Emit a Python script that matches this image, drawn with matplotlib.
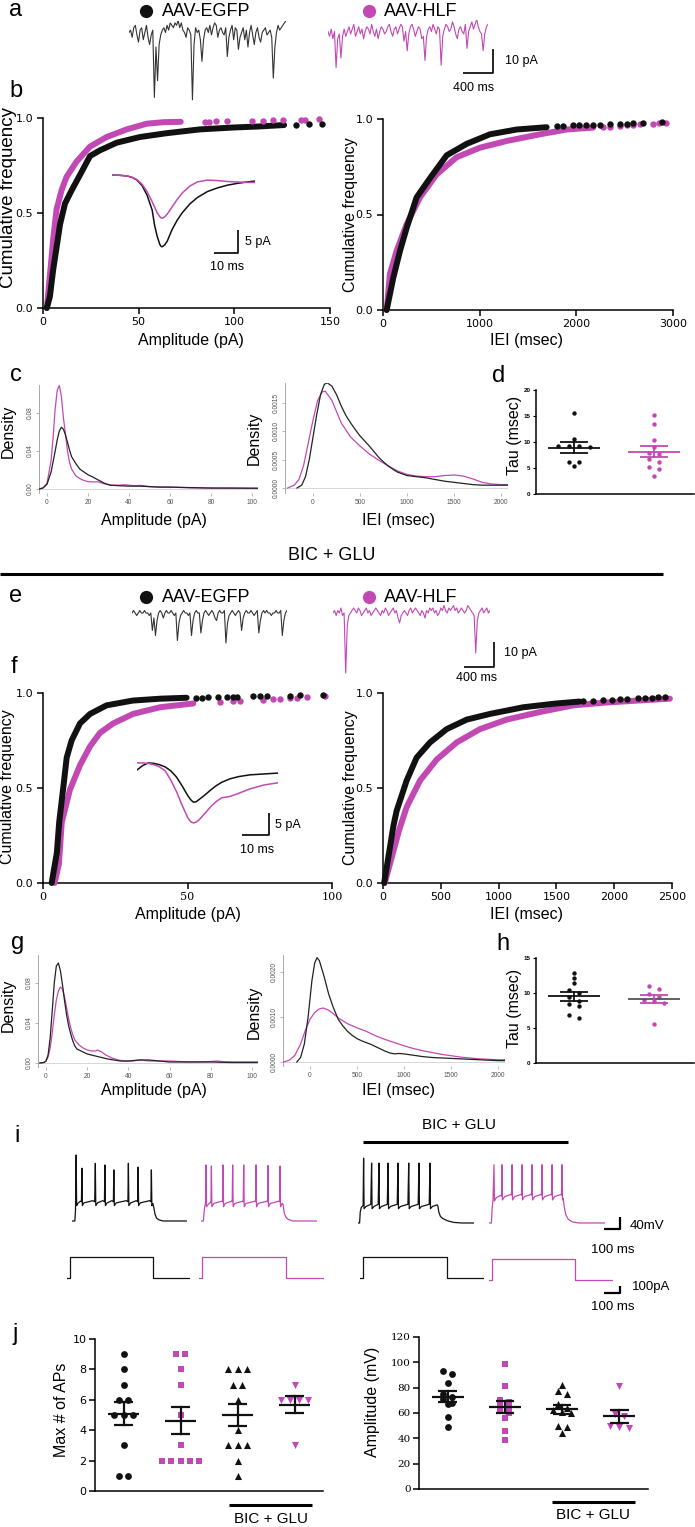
import numpy as np
import matplotlib
matplotlib.use('Agg')
import matplotlib.pyplot as plt

plt.rcParams['font.family'] = ['Liberation Sans', 'DejaVu Sans']

MAG = '#C249B4'
BLK = '#111111'

# ======================= DATA =======================
group_names = ['AAV-EGFP', 'AAV-HLF']

# a / e : example mEPSC traces (pA relative to baseline, equal sampling)
trace_a_egfp = [0, 1, -2, 2, 3, -1, -4, 1, 2, -3,
                0, 3, -2, -5, -1, 1, -27, -6, -20, -5,
                -1, 1, 2, 0, 3, 1, 4, 3, 2, 4,
                3, 5, 2, 4, 1, 0, -2, 2, 1, -1,
                -28, -5, 2, 0, 1, -3, -12, -3, 1, 2,
                0, 3, -1, 2, 4, 3, -2, 1, 2, 0,
                -1, 2, -10, -2, 1, 3, -3, 2, 1, -7,
                -2, 0, 2, -3, 1, -6, 0, 3, -1, -5,
                0, 2, -2, -4, 0, 1, 2, -1, 0, 1,
                -2, -19, -6, 0, 3, 1, 2, 3, 4, 5]
trace_a_hlf = [0, -2, 1, -3, 0, -15, -3, -1, -11, -2,
               1, -2, 0, 2, -1, 1, 3, -2, 0, 2,
               -1, 1, -3, 0, 2, 1, -1, 3, 0, -2,
               1, -3, 0, 2, 1, -1, 0, 2, 3, 0,
               -2, 1, 2, -1, 1, 3, 2, -4, 0, -8,
               -1, 2, 3, 1, -2, 0, 2, 1, -3, -2,
               -12, -2, 1, 2, 0, 3, 1, -1, 2, 1,
               -14, -2, 1, 3, 2, 0, 1, 4, 2, -1,
               -3, 1, 2, 0, -1, 3, -7, 0, 2, 4,
               1, 3, 5, 2, 0, -1, -8, -1, 2, 3]
trace_e_egfp = [0, 1, 0, -1, 0, 1, 0, 0, 1, 0,
                0, -1, 0, -7, -2, -9, -3, 0, 1, 0,
                -2, 0, 1, 0, 0, 1, 0, -1, 0, -11,
                -4, -1, 0, 1, 0, 0, -1, 0, -9, -3,
                0, 1, 0, 0, -8, -3, 0, 1, 0, -1,
                0, 1, 0, -2, -3, 0, 1, 0, 0, 1,
                -12, -4, -1, 0, 1, 0, -1, 0, 1, 0,
                -7, -2, 0, 1, 0, 0, 1, 0, -1, 0,
                1, -8, -3, 0, 1, 0, 1, 0, 0, -1,
                0, 0, 1, 0, 0, 1, -9, -3, 0, 1]
trace_e_hlf = [0, 1, -1, 1, 0, 2, -1, 0, -24, -5,
               -1, 0, 1, 2, 1, 0, 2, 1, -1, 0,
               1, 2, 0, 1, -1, 0, 1, 2, 1, 0,
               -1, 1, 0, 2, 1, -1, 0, 1, 2, 0,
               1, -2, -4, -1, 0, 1, 0, -1, 1, 2,
               0, 1, 2, 1, 0, -1, 1, 0, -2, 1,
               0, 2, 1, 2, 0, 1, -1, 0, 2, 1,
               3, 1, 0, 2, 1, 2, 3, 1, 2, 0,
               1, 2, 1, 0, 1, 3, 2, 1, 0, -1,
               -16, -3, 0, 1, 2, 0, 1, 2, 0, 1]

# b inset: averaged mEPSC (ms, pA)
inset_b_t = [0, 3, 6, 8, 10, 12, 14, 16, 17, 18, 19, 19.5, 20, 21, 22, 24, 26, 28, 31, 34, 38, 42, 46, 50, 54, 57]
inset_b_egfp = [0, -0.05, -0.2, -0.5, -1.1, -2.3, -4.4, -7.6, -11.0, -13.3, -15.0, -15.5, -15.6, -15.2, -14.4,
                -11.8, -9.8, -8.2, -6.3, -4.9, -3.6, -2.8, -2.2, -1.8, -1.5, -1.3]
inset_b_hlf = [0, -0.05, -0.2, -0.5, -1.0, -2.0, -3.6, -5.8, -7.0, -8.2, -9.0, -9.3, -9.4, -9.1, -8.5,
               -6.9, -5.3, -3.9, -2.4, -1.5, -1.1, -1.2, -1.4, -1.5, -1.6, -1.6]
# f inset
inset_f_t = [0, 2, 4, 6, 8, 10, 12, 14, 16, 18, 19, 20, 21, 22, 24, 26, 28, 30, 33, 36, 40, 45, 50]
inset_f_egfp = [-1.6, -0.6, 0, -0.1, -0.4, -0.9, -1.8, -3.2, -5.2, -7.4, -8.3, -8.9, -8.8, -8.3, -7.3,
                -6.2, -5.2, -4.4, -3.6, -3.1, -2.7, -2.5, -2.3]
inset_f_hlf = [0, 0, -0.1, -0.4, -0.9, -1.8, -3.9, -6.5, -9.6, -12.4, -13.3, -13.6, -13.4, -12.9, -11.5,
               -10.0, -8.8, -7.9, -7.6, -6.9, -5.9, -5.0, -4.5]

# b: cumulative amplitude / IEI distributions (dense part + isolated tail events)
b_amp_egfp_x = [2, 3.6, 5.3, 7.1, 8.9, 11.5, 15, 19.3, 24.6, 29.8, 38.5, 50.7, 64.6, 82, 99.5, 112, 126]
b_amp_egfp_y = [0, 0.06, 0.2, 0.32, 0.44, 0.55, 0.62, 0.70, 0.80, 0.83, 0.87, 0.90, 0.92, 0.94, 0.95, 0.955, 0.963]
b_amp_egfp_tail_x = [132, 139, 146]
b_amp_egfp_tail_y = [0.965, 0.967, 0.97]
b_amp_hlf_x = [2, 3.6, 5.3, 7.1, 9.7, 12.3, 17.5, 24.6, 33.3, 43.7, 54.2, 63, 72]
b_amp_hlf_y = [0, 0.17, 0.36, 0.52, 0.62, 0.69, 0.77, 0.85, 0.90, 0.94, 0.97, 0.978, 0.98]
b_amp_hlf_tail_x = [84.7, 87, 90.4, 96, 109, 115, 120.4, 125.6, 135, 137, 144.3]
b_amp_hlf_tail_y = [0.98, 0.98, 0.982, 0.982, 0.985, 0.985, 0.987, 0.987, 0.99, 0.99, 0.995]

b_iei_egfp_x = [38, 107, 176, 245, 348, 486, 659, 866, 1107, 1383, 1693]
b_iei_egfp_y = [0, 0.17, 0.31, 0.43, 0.59, 0.69, 0.81, 0.87, 0.92, 0.945, 0.957]
b_iei_egfp_tail_x = [1795, 1864, 1968, 2030, 2100, 2175, 2244, 2347, 2451, 2520, 2589, 2692, 2882]
b_iei_egfp_tail_y = [0.962, 0.964, 0.966, 0.967, 0.968, 0.969, 0.97, 0.972, 0.975, 0.976, 0.977, 0.979, 0.982]
b_iei_hlf_x = [38, 72, 141, 245, 383, 555, 762, 1004, 1280, 1624, 1900, 2175]
b_iei_hlf_y = [0, 0.19, 0.31, 0.45, 0.59, 0.71, 0.80, 0.85, 0.885, 0.92, 0.945, 0.955]
b_iei_hlf_tail_x = [2280, 2350, 2450, 2520, 2590, 2660, 2790, 2860, 2930]
b_iei_hlf_tail_y = [0.958, 0.96, 0.965, 0.968, 0.97, 0.972, 0.975, 0.977, 0.98]

# f: same under BIC + GLU
f_amp_egfp_x = [3, 4.8, 5.6, 7, 8.2, 9.9, 12.8, 16.3, 22, 31, 40.5, 49.7]
f_amp_egfp_y = [0, 0.16, 0.32, 0.5, 0.66, 0.75, 0.84, 0.89, 0.935, 0.96, 0.97, 0.975]
f_amp_egfp_tail_x = [53, 55, 57, 60.7, 63.6, 65.8, 67.2, 72.8, 75, 77.4, 85.5, 89, 97]
f_amp_egfp_tail_y = [0.975, 0.976, 0.977, 0.978, 0.979, 0.98, 0.98, 0.982, 0.983, 0.984, 0.986, 0.988, 0.99]
f_amp_hlf_x = [4, 5.5, 6.5, 9.3, 12.8, 16.3, 19.7, 24.3, 31.2, 40.5, 52]
f_amp_hlf_y = [0, 0.1, 0.32, 0.49, 0.62, 0.72, 0.79, 0.84, 0.89, 0.925, 0.945]
f_amp_hlf_tail_x = [61.2, 65.8, 68.2, 76.2, 79.7, 82, 85.5, 87.8, 91.3, 97.6]
f_amp_hlf_tail_y = [0.955, 0.958, 0.96, 0.965, 0.968, 0.97, 0.973, 0.975, 0.98, 0.985]

f_iei_egfp_x = [10, 50, 90, 118, 205, 291, 407, 551, 724, 926, 1214, 1502, 1700]
f_iei_egfp_y = [0, 0.15, 0.3, 0.38, 0.54, 0.66, 0.74, 0.81, 0.86, 0.89, 0.925, 0.945, 0.955]
f_iei_egfp_tail_x = [1733, 1820, 1906, 1978, 2050, 2108, 2209, 2267, 2325, 2382, 2440]
f_iei_egfp_tail_y = [0.957, 0.96, 0.962, 0.965, 0.967, 0.969, 0.972, 0.974, 0.976, 0.978, 0.98]
f_iei_hlf_x = [15, 60, 140, 205, 321, 465, 638, 839, 1070, 1358, 1646, 1934, 2200, 2482]
f_iei_hlf_y = [0, 0.1, 0.28, 0.40, 0.54, 0.65, 0.74, 0.81, 0.86, 0.90, 0.935, 0.95, 0.96, 0.97]

# c: density estimates
c_amp_egfp_x = [-4, -2, 0, 2, 4, 5, 6, 7, 8, 9, 10, 11, 12, 14, 16, 18, 20, 22, 25, 28, 31, 35, 40, 45, 50, 55, 60, 70, 80, 90, 100, 103]
c_amp_egfp_y = [0.0, 0.001, 0.005, 0.018, 0.040, 0.052, 0.061, 0.065, 0.063, 0.057, 0.049, 0.041, 0.034, 0.027, 0.021, 0.018, 0.015, 0.013, 0.0095, 0.006, 0.004, 0.0035, 0.003, 0.003, 0.0025, 0.002, 0.002, 0.0015, 0.001, 0.001, 0.0008, 0.0008]
c_amp_hlf_x = [-4, -2, 0, 2, 3, 4, 5, 6, 7, 8, 9, 10, 11, 12, 14, 16, 18, 20, 22, 25, 28, 31, 35, 38, 42, 46, 50, 55, 60, 70, 80, 90, 100, 103]
c_amp_hlf_y = [0.0, 0.001, 0.006, 0.030, 0.055, 0.085, 0.104, 0.109, 0.098, 0.075, 0.058, 0.040, 0.028, 0.021, 0.014, 0.011, 0.009, 0.0078, 0.0075, 0.0075, 0.0055, 0.004, 0.004, 0.0045, 0.0035, 0.0038, 0.0025, 0.002, 0.002, 0.0012, 0.001, 0.0008, 0.0008, 0.0008]
c_iei_egfp_x = [-170, -120, -80, -40, 0, 40, 80, 120, 150, 200, 250, 300, 350, 400, 450, 500, 550, 600, 650, 700, 750, 800, 850, 900, 1000, 1100, 1200, 1300, 1400, 1500, 1600, 1700, 1800, 1900, 2000, 2070]
c_iei_egfp_y = [0, 0.5e-4, 2e-4, 5e-4, 9e-4, 13e-4, 16.5e-4, 18.3e-4, 18.6e-4, 18.0e-4, 16.5e-4, 14.5e-4, 12.8e-4, 11.5e-4, 10.3e-4, 9.2e-4, 8.3e-4, 7.4e-4, 6.4e-4, 5.4e-4, 4.6e-4, 3.9e-4, 3.3e-4, 2.8e-4, 2.2e-4, 2.0e-4, 1.8e-4, 1.5e-4, 1.2e-4, 1.0e-4, 0.8e-4, 0.6e-4, 0.5e-4, 0.5e-4, 0.5e-4, 0.5e-4]
c_iei_hlf_x = [-270, -200, -150, -100, -50, 0, 50, 100, 130, 200, 250, 300, 400, 500, 600, 700, 800, 900, 1000, 1100, 1200, 1300, 1400, 1500, 1600, 1700, 1800, 1900, 2000, 2070]
c_iei_hlf_y = [0, 0.5e-4, 1.5e-4, 4e-4, 8e-4, 12e-4, 15.5e-4, 17e-4, 17.1e-4, 15.5e-4, 13.5e-4, 11.5e-4, 9.0e-4, 7.4e-4, 6.0e-4, 4.9e-4, 3.9e-4, 3.0e-4, 2.4e-4, 2.1e-4, 2.0e-4, 2.0e-4, 2.2e-4, 2.3e-4, 2.1e-4, 1.6e-4, 1.0e-4, 0.7e-4, 0.6e-4, 0.6e-4]

# g: density estimates, BIC + GLU
g_amp_egfp_x = [-3, -1, 0, 1, 2, 3, 4, 5, 6, 7, 8, 9, 10, 11, 12, 13, 14, 15, 16, 18, 20, 22, 24, 26, 28, 30, 33, 36, 40, 45, 50, 55, 60, 70, 80, 90, 100, 103]
g_amp_egfp_y = [0, 0.0005, 0.002, 0.008, 0.025, 0.052, 0.08, 0.097, 0.100, 0.092, 0.078, 0.062, 0.048, 0.037, 0.029, 0.022, 0.017, 0.014, 0.013, 0.011, 0.009, 0.008, 0.007, 0.006, 0.005, 0.004, 0.003, 0.002, 0.002, 0.003, 0.003, 0.002, 0.001, 0.001, 0.001, 0.0005, 0.0005, 0.0005]
g_amp_hlf_x = [-3, -1, 0, 1, 2, 3, 4, 5, 6, 7, 8, 9, 10, 11, 12, 13, 14, 16, 18, 20, 22, 24, 25, 27, 29, 32, 35, 38, 42, 46, 50, 55, 60, 70, 80, 83, 86, 90, 100, 103]
g_amp_hlf_y = [0, 0.0005, 0.002, 0.006, 0.015, 0.03, 0.048, 0.063, 0.072, 0.076, 0.074, 0.066, 0.055, 0.044, 0.035, 0.028, 0.023, 0.018, 0.015, 0.013, 0.012, 0.012, 0.013, 0.011, 0.008, 0.005, 0.003, 0.002, 0.002, 0.003, 0.002, 0.002, 0.002, 0.001, 0.0015, 0.002, 0.0012, 0.001, 0.001, 0.001]
g_iei_egfp_x = [-140, -100, -60, -20, 0, 20, 50, 75, 100, 150, 200, 250, 300, 350, 400, 450, 500, 550, 600, 650, 700, 750, 800, 850, 900, 950, 1000, 1100, 1200, 1300, 1400, 1500, 1600, 1700, 1800, 1900, 2000, 2070]
g_iei_egfp_y = [0, 1e-4, 4e-4, 10e-4, 14e-4, 18e-4, 22e-4, 23.2e-4, 22.5e-4, 19e-4, 15e-4, 12e-4, 9.5e-4, 8e-4, 6.8e-4, 5.9e-4, 5.2e-4, 4.7e-4, 4.3e-4, 3.9e-4, 3.4e-4, 2.9e-4, 2.4e-4, 2.0e-4, 1.8e-4, 1.9e-4, 1.8e-4, 1.5e-4, 1.2e-4, 1.0e-4, 0.9e-4, 0.8e-4, 0.7e-4, 0.6e-4, 0.5e-4, 0.4e-4, 0.3e-4, 0.3e-4]
g_iei_hlf_x = [-280, -220, -160, -100, -50, 0, 50, 100, 140, 200, 250, 300, 400, 500, 600, 700, 800, 900, 1000, 1100, 1200, 1300, 1400, 1500, 1600, 1700, 1800, 1900, 2000, 2070]
g_iei_hlf_y = [0, 0.4e-4, 1.5e-4, 4e-4, 7e-4, 9.5e-4, 11e-4, 11.8e-4, 12e-4, 11.5e-4, 10.7e-4, 9.8e-4, 8.5e-4, 7.6e-4, 6.8e-4, 5.8e-4, 5.0e-4, 4.3e-4, 3.6e-4, 3.0e-4, 2.5e-4, 2.1e-4, 1.7e-4, 1.4e-4, 1.1e-4, 0.9e-4, 0.7e-4, 0.6e-4, 0.5e-4, 0.5e-4]

# d / h : decay tau (msec)
tau_d_egfp = [15.5, 10.5, 9.3, 9.2, 9.2, 9.0, 6.2, 6.2, 5.3]
tau_d_hlf = [15.1, 13.4, 10.4, 9.0, 7.8, 7.6, 6.8, 6.2, 5.2, 4.8, 3.5]
tau_h_egfp = [12.9, 12.2, 11.4, 10.4, 10.0, 9.4, 8.9, 8.4, 8.2, 6.8, 6.4]
tau_h_hlf = [11.0, 10.6, 9.9, 9.5, 9.0, 8.8, 8.6, 5.6]

# i : current-clamp traces (ms, mV) and injected current steps (ms, pA)
ap_egfp_ctrl = [(0, -70), (18, -70), (22, -50), (26, 50), (29, -42), (36, -38), (52, -34), (59, -35), (62, 26), (65, -42),
                (75, -37), (130, -33), (142, -35), (146, 35), (149, -42), (160, -37), (192, -33), (203, -35), (206, 32),
                (209, -42), (220, -37), (250, -33), (259, -35), (262, 23), (265, -42), (277, -37), (340, -33), (350, -35),
                (353, 35), (356, -42), (368, -37), (402, -33), (411, -35), (414, 28), (417, -42), (428, -37), (486, -33),
                (494, -35), (497, 23), (500, -42), (506, -38), (512, -45), (520, -58), (530, -65), (545, -68), (570, -70),
                (720, -70)]
ap_hlf_ctrl = [(0, -70), (15, -70), (19, -55), (24, -42), (28, -38), (31, 32), (34, -44), (45, -40), (58, -36), (62, -37),
               (65, 30), (68, -44), (80, -38), (130, -34), (135, -35), (138, 32), (141, -44), (152, -38), (192, -34),
               (195, -35), (198, 32), (201, -44), (212, -38), (260, -34), (264, -35), (267, 32), (270, -44), (281, -38),
               (337, -34), (341, -35), (344, 32), (347, -44), (358, -38), (412, -34), (416, -35), (419, 31), (422, -44),
               (433, -38), (487, -34), (491, -35), (494, 30), (497, -44), (508, -38), (513, -40), (520, -55), (530, -63),
               (545, -67), (575, -70), (725, -70)]
ap_egfp_bic = [(0, -70), (10, -70), (14, -50), (20, -42), (32, -38), (35, 48), (38, -44), (50, -40), (80, -36), (85, 39),
               (88, -44), (100, -40), (126, -36), (131, 39), (134, -44), (146, -40), (183, -36), (188, 39), (191, -44),
               (203, -40), (245, -36), (250, 39), (253, -44), (265, -40), (312, -36), (317, 39), (320, -44), (332, -40),
               (376, -36), (381, 39), (384, -44), (396, -40), (445, -36), (450, 39), (453, -44), (465, -40), (495, -37),
               (500, -40), (505, -50), (515, -58), (530, -62), (560, -66), (600, -69), (650, -70), (725, -70)]
ap_hlf_bic = [(0, -70), (15, -70), (19, -45), (25, -28), (31, 36), (34, -30), (45, -24), (70, -20), (78, -21), (81, 36),
              (84, -28), (98, -22), (138, -18), (141, -19), (144, 36), (147, -28), (160, -22), (200, -18), (203, -19),
              (206, 36), (209, -28), (222, -22), (263, -18), (266, -19), (269, 36), (272, -28), (285, -22), (325, -18),
              (328, -19), (331, 36), (334, -28), (347, -22), (388, -18), (391, -19), (394, 36), (397, -28), (410, -22),
              (450, -18), (453, -19), (456, 36), (459, -28), (464, -25), (470, -40), (480, -55), (495, -63), (520, -68),
              (560, -70), (725, -70)]
step_egfp_ctrl = [(0, 0), (19, 0), (19, 350), (537, 350), (537, 0), (770, 0)]
step_hlf_ctrl = [(0, 0), (19, 0), (19, 350), (544, 350), (544, 0), (780, 0)]
step_egfp_bic = [(0, 0), (19, 0), (19, 350), (544, 350), (544, 0), (775, 0)]
step_hlf_bic = [(0, 0), (19, 0), (19, 350), (537, 350), (537, 0), (775, 0)]

# j : AP properties
j_groups = ['EGFP', 'HLF', 'EGFP BIC+GLU', 'HLF BIC+GLU']
max_aps = [[9, 8, 7, 6, 6, 5, 5, 5, 3, 1, 1],
           [9, 9, 8, 7, 5, 3, 2, 2, 2, 2, 2],
           [8, 8, 8, 7, 7, 6, 4, 3, 3, 3, 2, 1],
           [7, 6, 6, 6, 6, 3]]
ap_amp = [[93, 91, 84, 75, 73, 71, 68, 67, 57, 49],
          [99, 81, 70, 69, 66, 64, 62, 60, 56, 46, 39],
          [82, 77, 75, 67, 64, 62, 61, 60, 50, 49, 44],
          [81, 59, 58, 50, 49, 48]]

# ======================= FIGURE =======================
W, H = 695, 1527
fig = plt.figure(figsize=(W / 100, H / 100), dpi=100)


def ax_px(x0, y0, x1, y1):
    a = fig.add_axes([x0 / W, 1 - y1 / H, (x1 - x0) / W, (y1 - y0) / H])
    a.patch.set_visible(False)
    return a


ov = fig.add_axes([0, 0, 1, 1], zorder=10)
ov.set_xlim(0, W)
ov.set_ylim(H, 0)
ov.axis('off')
ov.patch.set_visible(False)


def txt(x, y, s, size, ha='center', va='center', rot=0, **kw):
    ov.text(x, y, s, fontsize=size, ha=ha, va=va, rotation=rot, **kw)


def seg(xs, ys, lw=1.2, color='k'):
    ov.plot(xs, ys, color=color, lw=lw, solid_capstyle='butt')


def trace(box, x, y, color, xlim, ylim, lw=0.8):
    a = ax_px(*box)
    a.plot(x, y, color=color, lw=lw)
    a.set_xlim(*xlim)
    a.set_ylim(*ylim)
    a.axis('off')
    return a


# ---- panel letters
for s, x, y in [('a', 16, 10), ('b', 16, 91), ('c', 16, 375), ('d', 499, 376), ('e', 16, 596), ('f', 14, 667),
                ('g', 18, 943), ('h', 503, 944), ('i', 17, 1136), ('j', 15, 1334)]:
    txt(x, y, s, 17)

# ---- legends rows a / e
for yy in (11, 597):
    ov.plot([146], [yy], 'o', ms=9.5, color=BLK, mec='none')
    txt(162, yy, group_names[0], 13, ha='left')
    ov.plot([369], [yy], 'o', ms=9.5, color=MAG, mec='none')
    txt(384, yy, group_names[1], 13, ha='left')

# ---- a traces
trace((129, 21, 286, 101), np.arange(len(trace_a_egfp)), trace_a_egfp, '#333333', (0, len(trace_a_egfp) - 1), (-28.5, 4.8))
trace((328, 20, 488, 100), np.arange(len(trace_a_hlf)), trace_a_hlf, MAG, (0, len(trace_a_hlf) - 1), (-28.5, 4.8))
seg([493, 493, 463], [49, 73, 73])
txt(505, 61, '10 pA', 9, ha='left')
txt(474, 88, '400 ms', 9)

# ---- e traces
trace((132, 603, 287, 648), np.arange(len(trace_e_egfp)), trace_e_egfp, '#333333', (0, len(trace_e_egfp) - 1), (-14, 4))
trace((333, 603, 490, 676), np.arange(len(trace_e_hlf)), trace_e_hlf, MAG, (0, len(trace_e_hlf) - 1), (-25.2, 4))
seg([494, 494, 464], [642, 667, 667])
txt(504, 653, '10 pA', 9, ha='left')
txt(477, 678, '400 ms', 9)


# ---- cumulative panels
def cdf_panel(box, xlim, xticks, dense, tails, tick_family='DejaVu Sans'):
    a = ax_px(*box)
    a.set_xlim(*xlim)
    a.set_ylim(0, 1)
    for s in ('top', 'right'):
        a.spines[s].set_visible(False)
    for s in ('left', 'bottom'):
        a.spines[s].set_linewidth(1.1)
    a.set_yticks([0, 0.5, 1.0])
    a.set_yticklabels(['0.0', '0.5', '1.0'], family='DejaVu Sans', fontsize=8)
    a.set_xticks(xticks)
    a.set_xticklabels([str(t) for t in xticks], family=tick_family, fontsize=8)
    a.tick_params(length=4, width=1.1, pad=3)
    a.tick_params(axis='x', pad=2.5)
    for xs, ys, c in dense:
        a.plot(xs, ys, color=c, lw=4.3, solid_capstyle='round', solid_joinstyle='round', clip_on=False, zorder=3)
    for xs, ys, c in tails:
        a.plot(xs, ys, 'o', color=c, ms=4.6, mec='none', clip_on=False, zorder=3)
    return a


cdf_panel((43, 118, 330, 308), (0, 150), [0, 50, 100, 150],
          [(b_amp_hlf_x, b_amp_hlf_y, MAG), (b_amp_egfp_x, b_amp_egfp_y, BLK)],
          [(b_amp_hlf_tail_x, b_amp_hlf_tail_y, MAG), (b_amp_egfp_tail_x, b_amp_egfp_tail_y, BLK)])
cdf_panel((383, 119, 673, 310), (0, 3000), [0, 1000, 2000, 3000],
          [(b_iei_hlf_x, b_iei_hlf_y, MAG), (b_iei_egfp_x, b_iei_egfp_y, BLK)],
          [(b_iei_hlf_tail_x, b_iei_hlf_tail_y, MAG), (b_iei_egfp_tail_x, b_iei_egfp_tail_y, BLK)])
cdf_panel((43, 693, 332, 883), (0, 100), [0, 50, 100],
          [(f_amp_hlf_x, f_amp_hlf_y, MAG), (f_amp_egfp_x, f_amp_egfp_y, BLK)],
          [(f_amp_hlf_tail_x, f_amp_hlf_tail_y, MAG), (f_amp_egfp_tail_x, f_amp_egfp_tail_y, BLK)],
          tick_family='DejaVu Serif')
cdf_panel((383, 693, 672, 883), (0, 2500), [0, 500, 1000, 1500, 2000, 2500],
          [(f_iei_hlf_x, f_iei_hlf_y, MAG), (f_iei_egfp_x, f_iei_egfp_y, BLK)],
          [(f_iei_egfp_tail_x, f_iei_egfp_tail_y, BLK)])

txt(9, 198, 'Cumulative frequency', 13.5, rot=90)
txt(350, 215, 'Cumulative frequency', 11.5, rot=90)
txt(8, 787, 'Cumulative frequency', 11.5, rot=90)
txt(350, 788, 'Cumulative frequency', 11.5, rot=90)
txt(191, 340, 'Amplitude (pA)', 11.5)
txt(527, 340, 'IEI (msec)', 11.5)
txt(188, 915, 'Amplitude (pA)', 11.5)
txt(527, 915, 'IEI (msec)', 11.5)

# ---- insets
ia = trace((112, 170, 255, 250), inset_b_t, inset_b_egfp, BLK, (0, 57), (-16.3, 1.1), lw=1.1)
ia.plot(inset_b_t, inset_b_hlf, color=MAG, lw=1.1)
seg([238, 238, 214], [230, 253, 253])
txt(245, 242, '5 pA', 9, ha='left')
txt(227, 267, '10 ms', 9)

ib = trace((137, 755, 278, 830), inset_f_t, inset_f_egfp, BLK, (0, 50), (-15.2, 1.8), lw=1.1)
ib.plot(inset_f_t, inset_f_hlf, color=MAG, lw=1.1)
seg([269, 269, 242], [813, 835, 835])
txt(275, 825, '5 pA', 9, ha='left')
txt(257, 850, '10 ms', 9)


# ---- density panels
def dens_panel(box, xlim, ylim, xticks, yticks, ytl, curves):
    a = ax_px(*box)
    a.set_xlim(*xlim)
    a.set_ylim(*ylim)
    for s in ('top', 'right', 'bottom'):
        a.spines[s].set_visible(False)
    a.spines['left'].set_color('#9a9a9a')
    a.spines['left'].set_linewidth(0.6)
    a.axhline(0, color='#d0d0d0', lw=0.6, zorder=1)
    a.set_xticks(xticks)
    a.set_xticklabels([str(t) for t in xticks], fontsize=4.8)
    a.set_yticks(yticks)
    a.set_yticklabels(ytl, fontsize=4.8, rotation=90, va='center')
    a.tick_params(colors='#999999', labelcolor='#555555', length=2.5, width=0.5, pad=1.5)
    for xs, ys, c in curves:
        a.plot(xs, ys, color=c, lw=0.9, zorder=3)
    return a


dens_panel((39, 385, 258, 493), (-3.9, 102.9), (-0.0042, 0.1095), [0, 20, 40, 60, 80, 100],
           [0, 0.04, 0.08], ['0.00', '0.04', '0.08'],
           [(c_amp_hlf_x, c_amp_hlf_y, MAG), (c_amp_egfp_x, c_amp_egfp_y, '#222222')])
dens_panel((285, 383, 508, 493), (-298, 2074), (-0.0000883, 0.001855), [0, 500, 1000, 1500, 2000],
           [0, 0.0005, 0.0010, 0.0015], ['0.0000', '0.0005', '0.0010', '0.0015'],
           [(c_iei_hlf_x, c_iei_hlf_y, MAG), (c_iei_egfp_x, c_iei_egfp_y, '#222222')])
dens_panel((38, 955, 258, 1067), (-3.9, 102.9), (-0.004, 0.108), [0, 20, 40, 60, 80, 100],
           [0, 0.04, 0.08], ['0.00', '0.04', '0.08'],
           [(g_amp_hlf_x, g_amp_hlf_y, MAG), (g_amp_egfp_x, g_amp_egfp_y, '#222222')])
dens_panel((283, 955, 505, 1066), (-287, 2074), (-0.0000889, 0.002378), [0, 500, 1000, 1500, 2000],
           [0, 0.0010, 0.0020], ['0.0000', '0.0010', '0.0020'],
           [(g_iei_hlf_x, g_iei_hlf_y, MAG), (g_iei_egfp_x, g_iei_egfp_y, '#222222')])
for dy in (0, 574):
    txt(8, 431 + dy, 'Density', 11.5, rot=90)
    txt(254, 438 + dy, 'Density', 11.5, rot=90)
for yy in (520, 1090):
    txt(154, yy, 'Amplitude (pA)', 11.5)
    txt(399, yy, 'IEI (msec)', 11.5)


# ---- scatter helpers
def swarm(vals, center, tol, spacing):
    vals = np.asarray(vals, dtype=float)
    order = np.argsort(-vals, kind='stable')
    rows = []
    for i in order:
        if rows and abs(vals[rows[-1][0]] - vals[i]) <= tol:
            rows[-1].append(i)
        else:
            rows.append([i])
    xs = np.zeros(len(vals))
    for r in rows:
        n = len(r)
        for k, i in enumerate(r):
            xs[i] = center + (k - (n - 1) / 2) * spacing
    return xs


def mean_sem(a, x, vals, color, half_mean, half_cap, lw, mean_color=None):
    m = np.mean(vals)
    s = np.std(vals, ddof=1) / np.sqrt(len(vals))
    a.plot([x - half_mean, x + half_mean], [m, m], color=mean_color or color, lw=lw, zorder=4, solid_capstyle='butt')
    a.plot([x, x], [m - s, m + s], color=color, lw=lw, zorder=4)
    for yy in (m - s, m + s):
        a.plot([x - half_cap, x + half_cap], [yy, yy], color=color, lw=lw, zorder=4, solid_capstyle='butt')


def tau_panel(box, ylim, yticks, egfp, hlf, hlf_mean_color):
    a = ax_px(*box)
    a.set_xlim(0.525, 2.5)
    a.set_ylim(*ylim)
    for s in ('top', 'right'):
        a.spines[s].set_visible(False)
    for s in ('left', 'bottom'):
        a.spines[s].set_linewidth(1.1)
    a.set_xticks([])
    a.set_yticks(yticks)
    a.set_yticklabels([str(v) for v in yticks], fontsize=4.5, fontweight='bold')
    a.tick_params(axis='y', length=2.5, width=0.8, pad=1.5)
    for x, vals, c, mc in ((1, egfp, BLK, BLK), (2, hlf, MAG, hlf_mean_color)):
        xs = swarm(vals, x, 0.7, 0.13)
        a.scatter(xs, vals, s=10, color=c, lw=0, zorder=3, clip_on=False)
        mean_sem(a, x, vals, c, 0.32, 0.18, 1.3, mean_color=mc)
    return a


tau_panel((536, 390, 694, 494), (0, 20), [0, 5, 10, 15, 20], tau_d_egfp, tau_d_hlf, MAG)
tau_panel((536, 958, 694, 1063), (0, 15), [0, 5, 10, 15], tau_h_egfp, tau_h_hlf, '#555555')
txt(514, 435, 'Tau (msec)', 11.5, rot=90)
txt(514, 1008, 'Tau (msec)', 11.5, rot=90)

# ---- BIC + GLU header
txt(332, 555, 'BIC + GLU', 13)
seg([0, 663], [574, 574], lw=2.2)

# ---- i : AP traces
txt(459, 1125, 'BIC + GLU', 11)
seg([363, 568], [1142, 1142], lw=2.2)
for box, data, c in (((72, 1145, 187, 1225), ap_egfp_ctrl, BLK), ((201, 1145, 317, 1225), ap_hlf_ctrl, MAG),
                     ((358, 1147, 474, 1227), ap_egfp_bic, BLK), ((489, 1147, 605, 1227), ap_hlf_bic, MAG)):
    t, v = zip(*data)
    trace(box, t, v, c, (0, t[-1]), (-77.3, 68.3), lw=0.9)
for box, data, c in (((67, 1255, 190, 1281), step_egfp_ctrl, BLK), ((199, 1255, 324, 1281), step_hlf_ctrl, MAG),
                     ((360, 1255, 484, 1281), step_egfp_bic, BLK), ((489, 1257, 613, 1283), step_hlf_bic, MAG)):
    t, v = zip(*data)
    trace(box, t, v, c, (0, t[-1]), (-50, 383), lw=0.9)
seg([620, 620, 604], [1217, 1229, 1229], lw=1.6)
txt(630, 1226, '40mV', 9.5, ha='left')
txt(613, 1250, '100 ms', 9.5)
seg([620, 620, 604], [1286, 1293, 1293], lw=1.6)
txt(632, 1287, '100pA', 9.5, ha='left')
txt(613, 1307, '100 ms', 9.5)

# ---- j panels
markers = ['o', 's', '^', 'v']
mcolors = [BLK, MAG, BLK, MAG]
msizes = [24, 22, 26, 26]


def j_panel(box, ylim, yticks, data, tol, tick_family, tick_size):
    a = ax_px(*box)
    a.set_xlim(0.5, 4.5)
    a.set_ylim(*ylim)
    for s in ('top', 'right'):
        a.spines[s].set_visible(False)
    for s in ('left', 'bottom'):
        a.spines[s].set_linewidth(1.1)
    a.set_xticks([])
    a.set_yticks(yticks)
    a.set_yticklabels([str(v) for v in yticks], family=tick_family, fontsize=tick_size)
    a.tick_params(axis='y', length=4, width=1.1, pad=2)
    for k, vals in enumerate(data):
        xs = swarm(vals, k + 1, tol, 0.16)
        a.scatter(xs, vals, s=msizes[k], marker=markers[k], color=mcolors[k], lw=0, zorder=3, clip_on=False)
        mean_sem(a, k + 1, vals, BLK, 0.28, 0.16, 1.6)
    return a


j_panel((95, 1339, 323, 1491), (0, 10), [0, 2, 4, 6, 8, 10], max_aps, 0.3, 'DejaVu Sans', 8)
j_panel((419, 1337, 648, 1489), (0, 120), [0, 20, 40, 60, 80, 100, 120], ap_amp, 3.5, 'DejaVu Serif', 7.5)
txt(62, 1410, 'Max # of APs', 11.5, rot=90)
txt(372, 1402, 'Amplitude (mV)', 11.5, rot=90)
seg([229, 312], [1505, 1505], lw=2.2)
txt(271, 1519, 'BIC + GLU', 11)
seg([552, 635], [1502, 1502], lw=2.2)
txt(593, 1515, 'BIC + GLU', 11)

fig.savefig('out.png', dpi=100)
